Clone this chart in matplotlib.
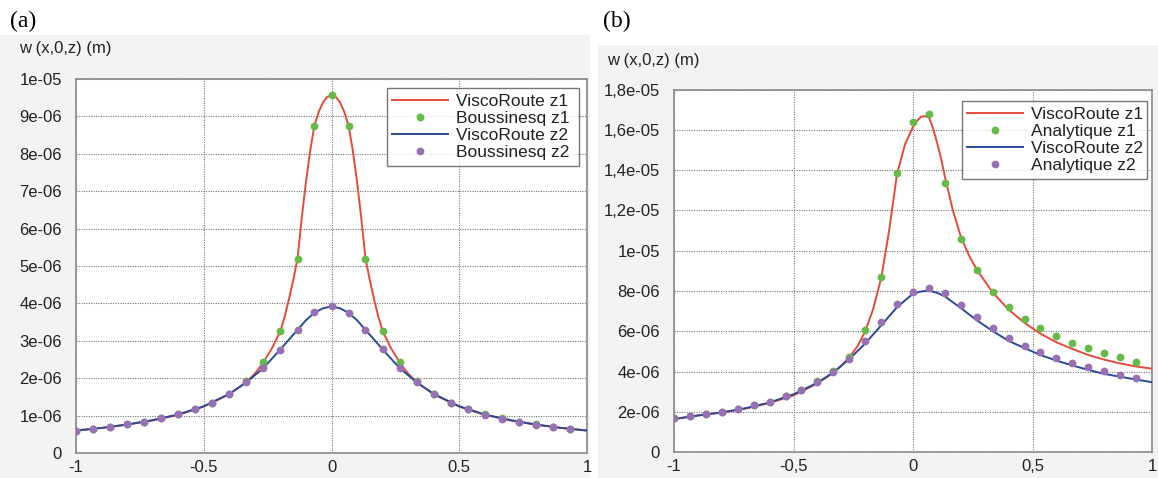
import matplotlib
matplotlib.use("Agg")
import matplotlib.pyplot as plt
from matplotlib.patches import Rectangle
import numpy as np

# ---------------- data (values in 1e-6 m) ----------------
x_markers = [-1.000, -0.933, -0.867, -0.800, -0.733, -0.667, -0.600, -0.533, -0.467, -0.400,
             -0.333, -0.267, -0.200, -0.133, -0.067, 0.000, 0.067, 0.133, 0.200, 0.267,
             0.333, 0.400, 0.467, 0.533, 0.600, 0.667, 0.733, 0.800, 0.867, 0.933]

# panel (a)
a_bous_z1 = [0.60, 0.64, 0.70, 0.77, 0.84, 0.93, 1.03, 1.17, 1.35, 1.59,
             1.92, 2.42, 3.26, 5.20, 8.75, 9.57, 8.75, 5.20, 3.26, 2.42,
             1.92, 1.59, 1.35, 1.17, 1.03, 0.93, 0.84, 0.77, 0.70, 0.64]
a_bous_z2 = [0.60, 0.64, 0.70, 0.77, 0.83, 0.93, 1.03, 1.17, 1.34, 1.58,
             1.89, 2.26, 2.76, 3.29, 3.76, 3.92, 3.75, 3.29, 2.77, 2.28,
             1.89, 1.57, 1.35, 1.17, 1.02, 0.92, 0.83, 0.76, 0.70, 0.64]

a_x_z1 = [-1.0, -0.9, -0.8, -0.7, -0.6, -0.5, -0.4, -0.333, -0.3, -0.267, -0.233, -0.2,
          -0.183, -0.167, -0.15, -0.133, -0.117, -0.1, -0.083, -0.067, -0.05, -0.033, -0.017,
          0.0, 0.017, 0.033, 0.05, 0.067, 0.083, 0.1, 0.117, 0.133, 0.15, 0.167, 0.183,
          0.2, 0.233, 0.267, 0.3, 0.333, 0.4, 0.5, 0.6, 0.7, 0.8, 0.9, 1.0]
a_visco_z1 = [0.60, 0.67, 0.76, 0.87, 1.02, 1.24, 1.57, 1.90, 2.12, 2.42, 2.80, 3.26,
              3.65, 4.10, 4.62, 5.20, 6.25, 7.25, 8.10, 8.75, 9.12, 9.38, 9.52,
              9.57, 9.52, 9.38, 9.12, 8.75, 8.10, 7.25, 6.25, 5.20, 4.62, 4.10, 3.65,
              3.26, 2.80, 2.42, 2.12, 1.90, 1.57, 1.24, 1.02, 0.87, 0.76, 0.67, 0.60]
a_x_z2 = [-1.0, -0.9, -0.8, -0.7, -0.6, -0.5, -0.4, -0.333, -0.267, -0.2, -0.167, -0.133,
          -0.1, -0.067, -0.033, 0.0, 0.033, 0.067, 0.1, 0.133, 0.167, 0.2, 0.267, 0.333,
          0.4, 0.5, 0.6, 0.7, 0.8, 0.9, 1.0]
a_visco_z2 = [0.60, 0.67, 0.76, 0.88, 1.03, 1.25, 1.58, 1.89, 2.27, 2.77, 3.03, 3.29,
              3.55, 3.75, 3.87, 3.92, 3.87, 3.75, 3.55, 3.29, 3.03, 2.77, 2.27, 1.89,
              1.58, 1.25, 1.03, 0.88, 0.76, 0.67, 0.60]

# panel (b)
b_anal_z1 = [1.69, 1.80, 1.90, 2.02, 2.15, 2.33, 2.52, 2.79, 3.10, 3.52,
             4.05, 4.75, 6.05, 8.70, 13.85, 16.40, 16.77, 13.38, 10.59, 9.04,
             7.97, 7.21, 6.62, 6.16, 5.76, 5.43, 5.17, 4.92, 4.72, 4.50]
b_anal_z2 = [1.69, 1.80, 1.90, 2.02, 2.15, 2.33, 2.51, 2.78, 3.08, 3.49,
             3.99, 4.65, 5.51, 6.45, 7.34, 7.98, 8.14, 7.89, 7.31, 6.70,
             6.16, 5.66, 5.28, 4.97, 4.67, 4.41, 4.21, 4.01, 3.86, 3.70]

b_x_z1 = [-1.0, -0.9, -0.8, -0.7, -0.6, -0.5, -0.4, -0.333, -0.3, -0.267, -0.233, -0.2,
          -0.167, -0.133, -0.1, -0.067, -0.033, 0.0, 0.017, 0.033, 0.05, 0.067, 0.083,
          0.1, 0.117, 0.133, 0.167, 0.2, 0.233, 0.267, 0.333, 0.4, 0.467, 0.533, 0.6,
          0.667, 0.733, 0.8, 0.867, 0.933, 1.0]
b_visco_z1 = [1.65, 1.84, 1.97, 2.17, 2.45, 2.82, 3.42, 3.95, 4.30, 4.70, 5.25, 6.00,
              7.10, 8.65, 11.0, 13.8, 15.3, 16.15, 16.45, 16.65, 16.68, 16.62, 16.1,
              15.4, 14.6, 13.7, 12.0, 10.7, 9.8, 9.06, 7.94, 7.08, 6.42, 5.89, 5.46,
              5.13, 4.83, 4.60, 4.41, 4.26, 4.15]
b_x_z2 = [-1.0, -0.9, -0.8, -0.7, -0.6, -0.5, -0.4, -0.333, -0.267, -0.2, -0.133, -0.067,
          0.0, 0.033, 0.067, 0.1, 0.133, 0.2, 0.267, 0.333, 0.4, 0.467, 0.533, 0.6,
          0.667, 0.733, 0.8, 0.867, 0.933, 1.0]
b_visco_z2 = [1.65, 1.82, 1.98, 2.19, 2.47, 2.88, 3.45, 3.97, 4.62, 5.40, 6.30, 7.20,
              7.87, 7.98, 8.02, 7.92, 7.74, 7.16, 6.55, 6.02, 5.53, 5.17, 4.83, 4.55,
              4.31, 4.09, 3.89, 3.75, 3.61, 3.48]

x_ticks = [-1, -0.5, 0, 0.5, 1]
a_xticklabels = ["-1", "-0.5", "0", "0.5", "1"]
b_xticklabels = ["-1", "-0,5", "0", "0,5", "1"]
a_yticks = [0, 1e-6, 2e-6, 3e-6, 4e-6, 5e-6, 6e-6, 7e-6, 8e-6, 9e-6, 1e-5]
a_yticklabels = ["0", "1e-06", "2e-06", "3e-06", "4e-06", "5e-06", "6e-06", "7e-06",
                 "8e-06", "9e-06", "1e-05"]
b_yticks = [0, 2e-6, 4e-6, 6e-6, 8e-6, 1e-5, 1.2e-5, 1.4e-5, 1.6e-5, 1.8e-5]
b_yticklabels = ["0", "2e-06", "4e-06", "6e-06", "8e-06", "1e-05", "1,2e-05", "1,4e-05",
                 "1,6e-05", "1,8e-05"]

# ---------------- style ----------------
RED = "#e64a3b"
BLUE = "#2b4a9c"
GREEN = "#66bb48"
PURPLE = "#9a70b4"
FONT = "Liberation Sans"

W, H = 1158, 478
fig = plt.figure(figsize=(W / 100, H / 100), dpi=100)
fig.patch.set_facecolor("white")

def px_rect(x0, y0, x1, y1):
    return [x0 / W, 1 - y1 / H, (x1 - x0) / W, (y1 - y0) / H]

# grey background of the scanned panels
fig.add_artist(Rectangle((0, 0), 590 / W, 1 - 35 / H, transform=fig.transFigure,
                         facecolor="#f3f3f3", edgecolor="none", zorder=-5))
fig.add_artist(Rectangle((598 / W, 0), (W - 598) / W, 1 - 45 / H, transform=fig.transFigure,
                         facecolor="#f3f3f3", edgecolor="none", zorder=-5))

def style_axes(ax, yticks, yticklabels, xticklabels, ymax):
    ax.set_facecolor("white")
    ax.set_xlim(-1, 1)
    ax.set_ylim(0, ymax)
    ax.set_xticks(x_ticks)
    ax.set_xticklabels(xticklabels, fontfamily=FONT, fontsize=12, color="#222222")
    ax.set_yticks(yticks)
    ax.set_yticklabels(yticklabels, fontfamily=FONT, fontsize=12, color="#222222")
    ax.tick_params(length=0, pad=10)
    ax.tick_params(axis="x", pad=5)
    ax.grid(True, linestyle=(0, (1, 1.2)), color="#777777", linewidth=0.8)
    for s in ax.spines.values():
        s.set_color("#8a8a8a")
        s.set_linewidth(1.2)

def draw(ax, xz1, vz1, xz2, vz2, m1, m2, lab):
    s = 1e-6
    ax.plot(xz1, np.array(vz1) * s, color=RED, lw=1.4, label="ViscoRoute z1", zorder=3)
    ax.plot(x_markers, np.array(m1) * s, linestyle="none", marker="o", ms=4.6,
            color=GREEN, label=lab + " z1", zorder=4)
    ax.plot(xz2, np.array(vz2) * s, color=BLUE, lw=1.4, label="ViscoRoute z2", zorder=3)
    ax.plot(x_markers, np.array(m2) * s, linestyle="none", marker="o", ms=4.6,
            color=PURPLE, label=lab + " z2", zorder=5)

# panel (a)
axa = fig.add_axes(px_rect(76, 79, 587, 453))
draw(axa, a_x_z1, a_visco_z1, a_x_z2, a_visco_z2, a_bous_z1, a_bous_z2, "Boussinesq")
style_axes(axa, a_yticks, a_yticklabels, a_xticklabels, 1e-5)

# panel (b)
axb = fig.add_axes(px_rect(674, 89.6, 1152, 452.3))
draw(axb, b_x_z1, b_visco_z1, b_x_z2, b_visco_z2, b_anal_z1, b_anal_z2, "Analytique")
style_axes(axb, b_yticks, b_yticklabels, b_xticklabels, 1.8e-5)

for ax, box in ((axa, (387, 84, 579, 170)), (axb, (962, 94, 1147, 186))):
    x0, y0, x1, y1 = box
    leg = ax.legend(loc="center left",
                    bbox_to_anchor=(x0 / W, 1 - y1 / H, (x1 - x0) / W, (y1 - y0) / H),
                    bbox_transform=fig.transFigure, mode="expand",
                    prop={"family": FONT, "size": 12.5}, frameon=True, fancybox=False,
                    handlelength=3.2, handletextpad=0.5, labelspacing=0.12,
                    borderpad=0.3, borderaxespad=0, markerscale=1.0)
    leg.get_frame().set_edgecolor("#555555")
    leg.get_frame().set_linewidth(1.0)
    for t in leg.get_texts():
        t.set_color("#222222")

# panel labels and axis titles
def ftext(x, y, s, **kw):
    fig.text(x / W, 1 - y / H, s, **kw)

ftext(10, 21, "(a)", fontfamily="Liberation Serif", fontsize=17, va="center", ha="left")
ftext(603, 21, "(b)", fontfamily="Liberation Serif", fontsize=17, va="center", ha="left")
ftext(19, 48, "w (x,0,z) (m)", fontfamily=FONT, fontsize=12, va="center", ha="left",
      color="#222222")
ftext(607, 60, "w (x,0,z) (m)", fontfamily=FONT, fontsize=12, va="center", ha="left",
      color="#222222")

fig.savefig("out.png", dpi=100, facecolor=fig.get_facecolor())
